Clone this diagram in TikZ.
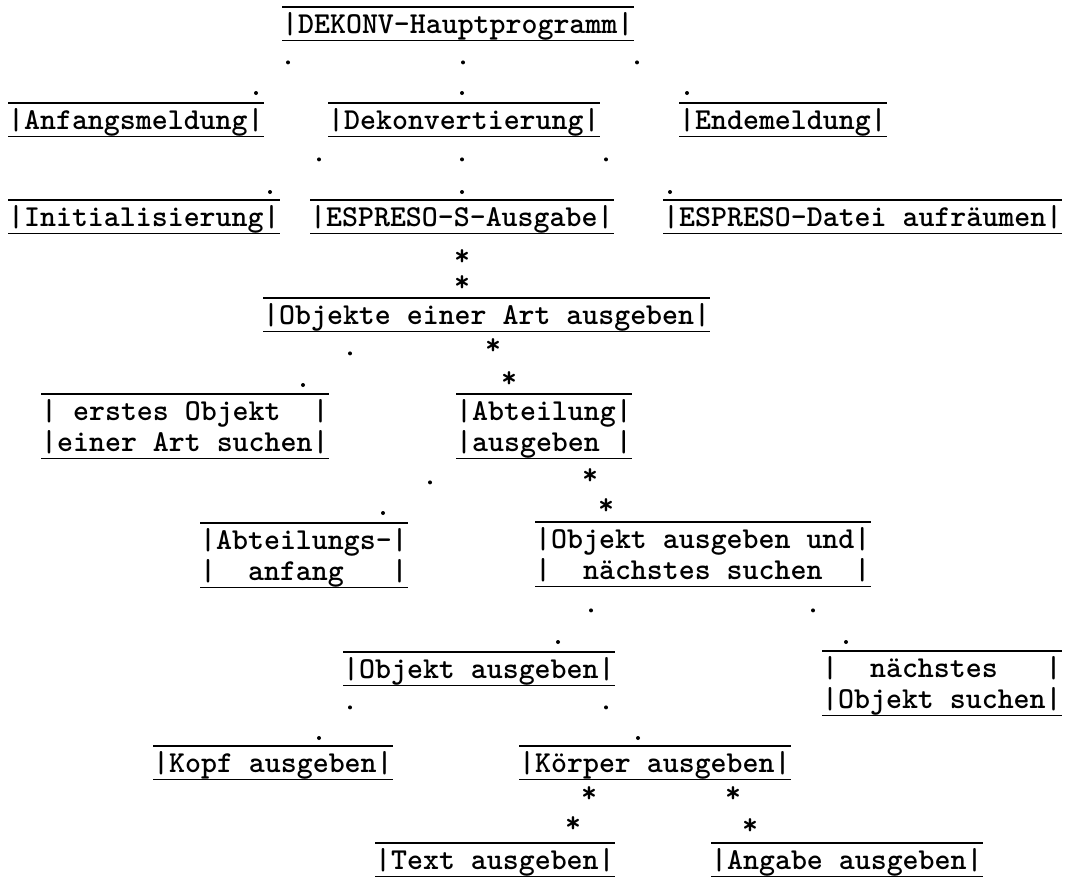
\documentclass[tikz,border=0pt]{standalone}
\usepackage{tikz}

\newcommand{\schrift}{\fontsize{30.4}{31}\selectfont\ttfamily\bfseries}
\newcommand{\zwei}[2]{\begin{tabular}[t]{@{}l@{}}#1\\#2\end{tabular}}

\tikzset{
  strich/.style={line width=1.6pt},
  kasten/.style={anchor=north west, inner sep=0pt, font=\schrift,
    text height=26pt, text depth=7pt,
    append after command={(\tikzlastnode.north west) edge[strich] (\tikzlastnode.north east)
      (\tikzlastnode.south west) edge[strich] (\tikzlastnode.south east)}},
  kasten2/.style={kasten, text depth=38pt},
  punkt/.style={circle, fill, inner sep=0pt, minimum size=4pt},
  stern/.style={font=\schrift, inner sep=0pt, text height=14pt, text depth=0pt,
    anchor=base, yshift=-12pt}
}

\begin{document}
\begin{tikzpicture}[x=1pt,y=-1pt]
\useasboundingbox (0,0) rectangle (1065,876);
% Kaesten
\node[kasten] (haupt) at (282,7) {|DEKONV-Hauptprogramm|};
\node[kasten] (anfang) at (8,103) {|Anfangsmeldung|};
\node[kasten] (dekonv) at (328,103) {|Dekonvertierung|};
\node[kasten] (ende) at (679,103) {|Endemeldung|};
\node[kasten] (init) at (8,200) {|Initialisierung|};
\node[kasten] (ausgabe) at (310,200) {|ESPRESO-S-Ausgabe|};
\node[kasten] (aufraeumen) at (663,200) {|ESPRESO-Datei aufräumen|};
\node[kasten] (objekte) at (263,298) {|Objekte einer Art ausgeben|};
\node[kasten2] (erstes) at (41,394) {\zwei{|~erstes~Objekt~~|}{|einer~Art~suchen|}};
\node[kasten2] (abteilung) at (456,394) {\zwei{|Abteilung|}{|ausgeben~|}};
\node[kasten2] (abtanfang) at (200,523) {\zwei{|Abteilungs-|}{|~~anfang~~~|}};
\node[kasten2] (objnaechst) at (535,522) {\zwei{|Objekt~ausgeben~und|}{|~~nächstes~suchen~~|}};
\node[kasten] (objaus) at (343,652) {|Objekt ausgeben|};
\node[kasten2] (naechstes) at (822,651) {\zwei{|~~nächstes~~~|}{|Objekt~suchen|}};
\node[kasten] (kopf) at (153,746) {|Kopf ausgeben|};
\node[kasten] (koerper) at (519,746) {|Körper ausgeben|};
\node[kasten] (textaus) at (375,843) {|Text ausgeben|};
\node[kasten] (angabe) at (711,843) {|Angabe ausgeben|};
% Verbindungen mit Punkten (Sequenz)
\path ([shift={(6,22)}]haupt.south west) node[punkt]{} -- ([shift={(248,-10)}]anfang.north west) node[punkt]{};
\path ([shift={(181,22)}]haupt.south west) node[punkt]{} -- ([shift={(134,-10)}]dekonv.north west) node[punkt]{};
\path ([shift={(355,22)}]haupt.south west) node[punkt]{} -- ([shift={(8,-10)}]ende.north west) node[punkt]{};
\path ([shift={(-9,23)}]dekonv.south west) node[punkt]{} -- ([shift={(262,-8)}]init.north west) node[punkt]{};
\path ([shift={(134,23)}]dekonv.south west) node[punkt]{} -- ([shift={(152,-8)}]ausgabe.north west) node[punkt]{};
\path ([shift={(278,23)}]dekonv.south west) node[punkt]{} -- ([shift={(7,-8)}]aufraeumen.north west) node[punkt]{};
\path ([shift={(87,22)}]objekte.south west) node[punkt]{} -- ([shift={(262,-9)}]erstes.north west) node[punkt]{};
\path ([shift={(-26,24)}]abteilung.south west) node[punkt]{} -- ([shift={(183,-10)}]abtanfang.north west) node[punkt]{};
\path ([shift={(56,24)}]objnaechst.south west) node[punkt]{} -- ([shift={(215,-10)}]objaus.north west) node[punkt]{};
\path ([shift={(278,24)}]objnaechst.south west) node[punkt]{} -- ([shift={(24,-9)}]naechstes.north west) node[punkt]{};
\path ([shift={(7,22)}]objaus.south west) node[punkt]{} -- ([shift={(166,-8)}]kopf.north west) node[punkt]{};
\path ([shift={(263,22)}]objaus.south west) node[punkt]{} -- ([shift={(119,-8)}]koerper.north west) node[punkt]{};
% Verbindungen mit Sternen (Iteration)
\path ([shift={(152,20)}]ausgabe.south west) node[stern]{*} -- ([shift={(199,-19)}]objekte.north west) node[stern]{*};
\path ([shift={(230,11)}]objekte.south west) node[stern]{*} -- ([shift={(53,-19)}]abteilung.north west) node[stern]{*};
\path ([shift={(134,14)}]abteilung.south west) node[stern]{*} -- ([shift={(71,-20)}]objnaechst.north west) node[stern]{*};
\path ([shift={(70,11)}]koerper.south west) node[stern]{*} -- ([shift={(198,-23)}]textaus.north west) node[stern]{*};
\path ([shift={(214,11)}]koerper.south west) node[stern]{*} -- ([shift={(39,-21)}]angabe.north west) node[stern]{*};
\end{tikzpicture}
\end{document}
